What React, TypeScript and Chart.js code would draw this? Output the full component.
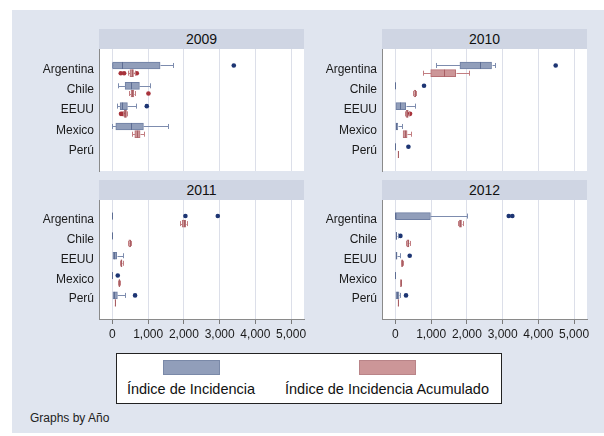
import React, { useEffect, useRef } from 'react';
import { Chart, registerables } from 'chart.js';
Chart.register(...registerables);

const countries = ['Argentina', 'Chile', 'EEUU', 'Mexico', 'Perú'];
const years = ['2009', '2010', '2011', '2012'];
const xTicks = [0, 1000, 2000, 3000, 4000, 5000];
const seriesNames = ['Índice de Incidencia', 'Índice de Incidencia Acumulado'];

// each box: [lower whisker, q1, median, q3, upper whisker]
type Box = number[] | null;

const incid2009: Box[] = [[0, 5, 262, 1334, 1689], [168, 355, 514, 756, 1054], [122, 215, 270, 420, 663], [0, 95, 514, 868, 1567], null];
const incidOut2009: number[][] = [[3396], [], [962], [], []];
const acum2009: Box[] = [[440, 490, 542, 590, 640], [478, 520, 560, 600, 640], [300, 330, 364, 395, 420], [542, 626, 690, 775, 886], null];
const acumOut2009: number[][] = [[234, 327, 682], [1008], [240, 280], [], []];

const incid2010: Box[] = [[1128, 1805, 2378, 2690, 2778], [0, 0, 0, 0, 0], [0, 0, 140, 288, 550], [0, 0, 20, 65, 177], [0, 0, 0, 0, 0]];
const incidOut2010: number[][] = [[4484], [801], [], [], [364]];
const acum2010: Box[] = [[773, 988, 1360, 1687, 2060], [505, 520, 540, 556, 570], [280, 300, 330, 360, 380], [200, 215, 270, 327, 437], [70, 72, 75, 78, 80]];
const acumOut2010: number[][] = [[], [], [410], [], []];

const incid2011: Box[] = [[0, 0, 0, 0, 0], [0, 0, 0, 0, 0], [0, 0, 40, 121, 308], [0, 0, 0, 0, 0], [0, 0, 40, 140, 355]];
const incidOut2011: number[][] = [[2042, 2948], [], [], [150], [634]];
const acum2011: Box[] = [[1900, 1950, 2000, 2050, 2100], [440, 460, 480, 500, 520], [215, 235, 250, 270, 290], [170, 180, 195, 208, 215], [70, 72, 75, 78, 80]];
const acumOut2011: number[][] = [[], [], [], [], []];

const incid2012: Box[] = [[0, 0, 0, 980, 2003], [0, 0, 10, 37, 60], [0, 0, 10, 47, 140], [0, 0, 0, 0, 0], [0, 0, 50, 103, 120]];
const incidOut2012: number[][] = [[3170, 3272], [140], [400], [], [297]];
const acum2012: Box[] = [[1760, 1790, 1820, 1850, 1880], [300, 320, 350, 380, 400], [160, 170, 180, 190, 200], [135, 140, 148, 155, 160], [70, 72, 75, 78, 80]];
const acumOut2012: number[][] = [[], [], [], [], []];

const yearData = [
  { inc: incid2009, incOut: incidOut2009, acu: acum2009, acuOut: acumOut2009 },
  { inc: incid2010, incOut: incidOut2010, acu: acum2010, acuOut: acumOut2010 },
  { inc: incid2011, incOut: incidOut2011, acu: acum2011, acuOut: acumOut2011 },
  { inc: incid2012, incOut: incidOut2012, acu: acum2012, acuOut: acumOut2012 },
];

// layout of each panel's plot region
const layout = [
  { L: 99, R: 304, T: 49, B: 171, axis: false },
  { L: 382, R: 587, T: 49, B: 171, axis: false },
  { L: 99, R: 304, T: 200, B: 319, axis: true },
  { L: 382, R: 587, T: 200, B: 319, axis: true },
];

const FONT = '"Liberation Sans", Arial, Helvetica, sans-serif';
const BG = '#e0e5ef';
const STRIP = '#cfd5e3';
const BLUE = { fill: '#919eba', border: '#6f7fa3', line: '#7d8cae', median: '#5d6d93', dot: '#1d3573' };
const RED = { fill: '#cc9698', border: '#b66f74', line: '#c27d81', median: '#a85e63', dot: '#a8333b' };
const OFF = 0.19;
const YW = 95;
const PADT = 15;
const PADR = 20;
const XH = 30;

function Panel({ idx }: { idx: number }) {
  const ref = useRef<HTMLCanvasElement>(null);
  const lay = layout[idx];
  const d = yearData[idx];
  const width = YW + (lay.R - lay.L) + PADR;
  const height = PADT + (lay.B - lay.T) + (lay.axis ? XH : PADT);

  useEffect(() => {
    const series = [
      { boxes: d.inc, outs: d.incOut, off: -OFF, col: BLUE },
      { boxes: d.acu, outs: d.acuOut, off: OFF, col: RED },
    ];
    const datasets: any[] = [];
    series.forEach((s, si) => {
      datasets.push({
        type: 'bar',
        label: seriesNames[si],
        data: s.boxes.map((b, i) => (b ? { x: [b[1], b[3]], y: i + 1 + s.off } : null)).filter(Boolean),
        backgroundColor: s.col.fill,
        borderColor: s.col.border,
        borderWidth: 1,
        borderSkipped: false,
        grouped: false,
        barThickness: 7,
        maxBarThickness: 7,
        order: 2,
      });
    });
    series.forEach((s, si) => {
      const pts: any[] = [];
      s.outs.forEach((arr, i) => arr.forEach((v) => pts.push({ x: v, y: i + 1 + s.off })));
      datasets.push({
        type: 'scatter',
        label: seriesNames[si] + ' out',
        data: pts,
        backgroundColor: s.col.dot,
        borderColor: s.col.dot,
        borderWidth: 0,
        pointRadius: 2.3,
        pointHoverRadius: 2.3,
        order: 1,
      });
    });

    const boxPlugin = {
      id: 'boxLines' + idx,
      beforeDraw(chart: any) {
        const { ctx, chartArea: a } = chart;
        ctx.save();
        ctx.fillStyle = '#ffffff';
        ctx.fillRect(a.left, a.top, a.right - a.left, a.bottom - a.top);
        ctx.restore();
      },
      afterDatasetsDraw(chart: any) {
        const { ctx } = chart;
        const xs = chart.scales.x;
        const ys = chart.scales.y;
        ctx.save();
        ctx.lineWidth = 1;
        series.forEach((s) => {
          s.boxes.forEach((b, i) => {
            if (!b) return;
            const yc = ys.getPixelForValue(i + 1 + s.off);
            const px = (v: number) => Math.round(xs.getPixelForValue(v)) + 0.5;
            const yy = Math.round(yc) + 0.5;
            ctx.strokeStyle = s.col.line;
            ctx.beginPath();
            if (b[0] < b[1]) {
              ctx.moveTo(px(b[0]), yy);
              ctx.lineTo(px(b[1]), yy);
              ctx.moveTo(px(b[0]), yc - 2.5);
              ctx.lineTo(px(b[0]), yc + 2.5);
            }
            if (b[4] > b[3]) {
              ctx.moveTo(px(b[3]), yy);
              ctx.lineTo(px(b[4]), yy);
              ctx.moveTo(px(b[4]), yc - 2.5);
              ctx.lineTo(px(b[4]), yc + 2.5);
            }
            ctx.stroke();
            ctx.strokeStyle = s.col.median;
            ctx.beginPath();
            ctx.moveTo(px(b[2]), yc - 3.5);
            ctx.lineTo(px(b[2]), yc + 3.5);
            ctx.stroke();
          });
        });
        ctx.restore();
      },
    };

    const chart = new Chart(ref.current as HTMLCanvasElement, {
      type: 'bar',
      data: { datasets },
      plugins: [boxPlugin],
      options: {
        responsive: false,
        maintainAspectRatio: false,
        devicePixelRatio: 1,
        animation: false,
        indexAxis: 'y',
        layout: { padding: { top: PADT, right: PADR, bottom: lay.axis ? 0 : PADT, left: 0 } },
        plugins: { legend: { display: false }, tooltip: { enabled: false }, title: { display: false } },
        events: [],
        scales: {
          x: {
            type: 'linear',
            position: 'bottom',
            min: -375,
            max: 5360,
            offset: false,
            afterBuildTicks: (s: any) => {
              s.ticks = xTicks.map((v) => ({ value: v }));
            },
            afterFit: (s: any) => {
              s.height = lay.axis ? XH : 0;
            },
            ticks: {
              display: lay.axis,
              padding: 3,
              color: '#1a1a1a',
              font: { family: FONT, size: 12 },
              maxRotation: 0,
              autoSkip: false,
              callback: (v: any) => Number(v).toLocaleString('en-US'),
            },
            grid: {
              display: true,
              color: '#dcdfe9',
              lineWidth: 1,
              drawTicks: lay.axis,
              tickLength: 5,
              tickColor: '#7a7a7a',
              offset: false,
            },
            border: { display: lay.axis, color: '#8a8a8a', width: 1 },
          },
          y: {
            type: 'linear',
            position: 'left',
            min: 0,
            max: 6,
            reverse: true,
            offset: false,
            afterBuildTicks: (s: any) => {
              s.ticks = countries.map((_, i) => ({ value: i + 1 }));
            },
            afterFit: (s: any) => {
              s.width = YW;
            },
            ticks: {
              padding: 5,
              color: '#1a1a1a',
              font: { family: FONT, size: 12 },
              autoSkip: false,
              callback: (v: any) => countries[Number(v) - 1],
            },
            grid: { display: false, drawTicks: false, offset: false },
            border: { display: true, color: '#8a8a8a', width: 1 },
          },
        },
      } as any,
    } as any);
    return () => chart.destroy();
  }, []);

  return (
    <canvas
      ref={ref}
      width={width}
      height={height}
      style={{ position: 'absolute', left: lay.L - YW, top: lay.T - PADT, width, height }}
    />
  );
}

export default function App() {
  const swatch = (left: number, fill: string, border: string) => (
    <div
      style={{
        position: 'absolute',
        left,
        top: 6,
        width: 57,
        height: 15,
        boxSizing: 'border-box',
        background: fill,
        border: `1px solid ${border}`,
      }}
    />
  );
  return (
    <div style={{ position: 'absolute', left: 0, top: 0, width: 604, height: 436, background: '#ffffff', overflow: 'hidden', fontFamily: FONT }}>
      <div style={{ position: 'absolute', left: 12, top: 10, width: 592, height: 423, background: BG }} />
      {layout.map((lay, i) => (
        <div
          key={'h' + i}
          style={{
            position: 'absolute',
            left: lay.L,
            top: lay.T - 20,
            width: lay.R - lay.L,
            height: 20,
            background: STRIP,
            color: '#111',
            fontSize: 14,
            lineHeight: '20px',
            textAlign: 'center',
          }}
        >
          {years[i]}
        </div>
      ))}
      {layout.map((_, i) => (
        <Panel key={'p' + i} idx={i} />
      ))}
      <div
        style={{
          position: 'absolute',
          left: 116,
          top: 353,
          width: 386,
          height: 51,
          boxSizing: 'border-box',
          background: '#ffffff',
          border: '1px solid #222',
        }}
      >
        {swatch(46, BLUE.fill, '#7a89a8')}
        {swatch(242, RED.fill, '#b98488')}
        <div style={{ position: 'absolute', left: 4, width: 140, top: 26, lineHeight: '18px', fontSize: 14.5, color: '#111', textAlign: 'center', whiteSpace: 'nowrap' }}>
          {seriesNames[0]}
        </div>
        <div style={{ position: 'absolute', left: 160, width: 220, top: 26, lineHeight: '18px', fontSize: 14.5, color: '#111', textAlign: 'center', whiteSpace: 'nowrap' }}>
          {seriesNames[1]}
        </div>
      </div>
      <div style={{ position: 'absolute', left: 30, top: 411, fontSize: 12, lineHeight: '14px', color: '#222', whiteSpace: 'nowrap' }}>
        Graphs by Año
      </div>
    </div>
  );
}
